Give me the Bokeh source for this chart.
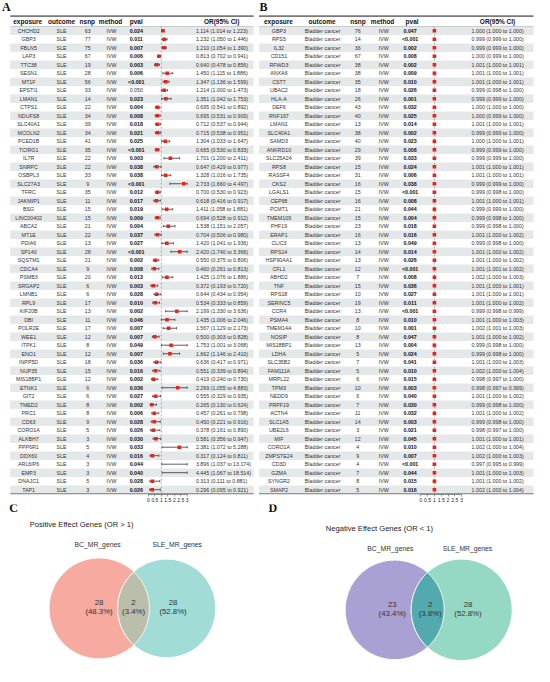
import numpy as np
from bokeh.plotting import figure
from bokeh.models import Range1d, LinearAxis, FixedTicker, CustomJSTickFormatter
from bokeh.layouts import column, row
from bokeh.embed import file_html
from bokeh.resources import INLINE
from bokeh.core.properties import value

# ---------------- Panel A data (SLE) ----------------
a_exposure = ["CHCHD2","GBP3","FBLN5","LAP3","TTC38","SESN1","MT1F","EPSTI1","LMAN1","CTPS1",
              "NDUFS8","SLC40A1","MCOLN2","PCED1B","TCIRG1","IL7R","SNRPC","OSBPL3","SLC27A3","TFRC",
              "JAKMIP1","BSG","LINC00402","ABCA2","MT1E","PDIA6","SP140","SQSTM1","CDCA4","PSMB3",
              "SRGAP2","LMNB1","RPL9","KIF20B","DBI","POLR2E","WEE1","ITPK1","ENO1","INPP5D",
              "NUP35","MIS18BP1","ETNK1","GIT2","TMED2","PRC1","CD63","CORO1A","ALKBH7","PPP6R1",
              "DDX60","ARL6IP6","EMP3","DNAJC1","TAP1"]
a_outcome = ["SLE"] * 55
a_method = ["IVW"] * 55
a_nsnp = [63,77,75,67,19,28,56,33,14,22,34,39,34,41,35,22,22,33,9,35,11,15,15,21,22,13,28,21,9,20,
          6,6,17,13,11,17,12,8,12,18,15,12,6,6,8,8,9,5,3,5,4,3,3,5,3]
a_pval = ["0.024","0.011","0.007","0.006","0.003","0.006","<0.001","0.050","0.023","0.004",
          "0.008","0.018","0.021","0.025","<0.001","0.003","0.038","0.038","<0.001","0.012",
          "0.017","0.019","0.009","0.004","0.037","0.027","<0.001","0.002","0.008","0.013",
          "0.003","0.028","0.010","0.002","0.046","0.007","0.007","0.049","0.007","0.036",
          "0.016","0.002","0.036","0.027","0.002","0.006","0.028","0.026","0.030","0.033",
          "0.016","0.044","0.040","0.028","0.026"]
a_or = [1.114,1.232,1.210,0.813,0.640,1.450,1.347,1.214,1.351,0.695,0.695,0.712,0.715,1.304,0.665,
        1.701,0.647,1.328,2.733,0.700,0.618,1.411,0.694,1.538,0.704,1.420,2.420,0.550,0.460,1.425,
        0.372,0.644,0.534,2.199,1.435,1.567,0.500,1.753,1.662,0.636,0.551,0.419,2.269,0.555,0.265,
        0.457,0.450,0.378,0.581,2.381,0.317,3.896,4.445,0.313,0.296]
a_lo = [1.014,1.050,1.054,0.702,0.478,1.115,1.136,1.000,1.042,0.541,0.531,0.537,0.538,1.033,0.530,
        1.200,0.429,1.016,1.660,0.530,0.416,1.058,0.528,1.151,0.506,1.041,1.740,0.375,0.261,1.076,
        0.193,0.434,0.333,1.330,1.006,1.129,0.303,1.001,1.146,0.417,0.339,0.240,1.055,0.329,0.130,
        0.261,0.221,0.161,0.356,1.072,0.124,1.037,1.067,0.111,0.095]
a_hi = [1.223,1.446,1.390,0.941,0.856,1.886,1.599,1.473,1.753,0.892,0.909,0.944,0.951,1.647,0.833,
        2.411,0.977,1.735,4.497,0.923,0.917,1.881,0.912,2.057,0.980,1.936,3.366,0.806,0.813,1.886,
        0.720,0.954,0.859,3.636,2.046,2.173,0.828,3.068,2.410,0.971,0.894,0.730,4.883,0.935,0.624,
        0.798,0.916,0.890,0.947,5.288,0.811,13.174,18.514,0.881,0.921]

# ---------------- Panel B data (Bladder cancer) ----------------
b_exposure = ["GBP3","RPS5","IL32","CD151","RFWD3","ANXA6","CST7","UBAC2","HLA-A","DEF6",
              "RNF167","LMAN1","SLC40A1","SAMD3","ANKRD10","SLC25A24","RPS8","RASSF4","CKS2","LGALS1",
              "CEP68","PCMT1","TMEM109","PHF19","ERAP1","CLIC3","RPS14","HSP90AA1","CFL1","ABHD2",
              "TNF","RPS18","SERINC5","CCR4","PSMA4","TMEM14A","NOSIP","MIS18BP1","LDHA","SLC35B2",
              "FAM111A","MRPL22","TPM3","NEDD9","PRPF19","ACTN4","SLC1A5","UBE2L6","MIF","CORO1A",
              "ZMPSTE24","CD3D","GZMA","SYNGR2","SMAP2"]
b_outcome = ["Bladder cancer"] * 55
b_method = ["IVW"] * 55
b_nsnp = [76,14,36,67,38,38,35,18,26,43,40,13,38,40,29,39,15,31,16,15,16,21,15,23,16,13,14,13,12,7,
          15,10,19,13,8,10,8,13,5,7,5,6,10,6,7,11,14,3,12,4,9,4,7,8,5]
b_pval = ["0.047","<0.001","0.002","0.008","0.002","0.009","0.010","0.026","0.001","0.032",
          "0.025","0.014","0.002","0.023","0.008","0.033","0.024","0.006","0.038","<0.001",
          "0.008","0.044","0.004","0.018","0.016","0.049","0.014","0.026","<0.001","0.008",
          "0.036","0.027","0.011","<0.001","0.010","0.001","0.047","0.004","0.024","0.041",
          "0.010","0.015","0.003","0.040","0.030","0.032","0.003","0.021","0.045","0.010",
          "0.007","<0.001","0.044","0.015","0.016"]
b_or = [1.000,0.999,0.999,1.000,1.001,1.001,1.001,0.999,0.999,1.000,1.000,1.001,0.999,1.000,0.999,
        0.999,1.001,1.001,0.999,0.999,1.001,0.999,0.999,0.999,1.001,0.999,1.001,1.001,1.001,1.002,
        1.001,1.001,1.001,0.999,1.001,1.002,1.001,0.999,0.999,1.001,1.002,0.998,0.998,1.001,0.999,
        1.001,0.999,0.998,1.001,1.002,1.002,0.997,1.001,1.001,1.002]
b_lo = [1.000,0.999,0.999,0.999,1.000,1.000,1.000,0.998,0.999,1.000,0.999,1.000,0.999,1.000,0.999,
        0.999,1.000,1.000,0.999,0.998,1.000,0.999,0.998,0.998,1.000,0.998,1.000,1.000,1.001,1.000,
        1.000,1.000,1.000,0.998,1.000,1.001,1.000,0.998,0.998,1.000,1.000,0.997,0.997,1.000,0.998,
        1.000,0.998,0.997,1.000,1.000,1.000,0.995,1.000,1.000,1.000]
b_hi = [1.000,1.000,1.000,1.000,1.001,1.001,1.001,1.000,1.000,1.000,1.000,1.001,1.000,1.001,1.000,
        1.000,1.001,1.001,1.000,1.000,1.001,1.000,1.000,1.000,1.002,1.000,1.002,1.002,1.002,1.003,
        1.001,1.001,1.002,0.999,1.003,1.003,1.002,1.000,1.000,1.003,1.004,1.000,0.999,1.002,1.000,
        1.002,1.000,1.000,1.001,1.004,1.003,0.999,1.003,1.002,1.004]

table_headers = ["exposure", "outcome", "nsnp", "method", "pval", "OR(95% CI)"]
or_ticks = [0, 0.5, 1, 1.5, 2, 2.5, 3]

# ---------------- Venn data ----------------
venn_sets = ["BC_MR_genes", "SLE_MR_genes"]
c_title = "Positive Effect Genes (OR > 1)"
c_counts = [28, 2, 28]
c_pcts = ["48.3%", "3.4%", "52.8%"]
d_title = "Negative Effect Genes (OR < 1)"
d_counts = [23, 2, 28]
d_pcts = ["43.4%", "3.8%", "52.8%"]

# ---------------- styling / layout ----------------
FONT = value("Liberation Sans")
SERIF = value("Liberation Serif")
SX = 534 / 550
SY = 666 / 682
ROW0, PITCH = 31.0, 8.705
RED = "#E8231B"
SHADE = "#E4E8E9"


def is_sig(p):
    return p.startswith("<") or float(p) < 0.05


def make_table(letter, letter_x, xr, exposure, outcome, nsnp, method, pval, orv, lo, hi,
               cols, hdr_x, tbl_x, or_px):
    x0, x1 = xr
    ytop, ybot = 0.0, 506.0
    fw = round((x1 - x0) * SX)
    fh = round((ybot - ytop) * SY)
    yr = Range1d(start=(ybot - ROW0) / PITCH, end=(ytop - ROW0) / PITCH)
    o0, o3 = or_px
    k = (o3 - o0) / 3.0
    p = figure(frame_width=fw, frame_height=fh, x_range=Range1d(x0, x1), y_range=yr,
               x_axis_type=None, y_axis_type=None, toolbar_location=None,
               output_backend="svg", min_border=0, outline_line_color=None)
    p.extra_x_ranges = {"or": Range1d(start=(x0 - o0) / k, end=(x1 - o0) / k)}
    n = len(exposure)
    idx = np.arange(n)
    even = idx[idx % 2 == 0]
    p.quad(left=tbl_x[0], right=tbl_x[1], top=even - 0.5, bottom=even + 0.5,
           fill_color=SHADE, line_color=None)
    p.segment(x0=[tbl_x[0]], x1=[tbl_x[1]], y0=[(16 - ROW0) / PITCH], y1=[(16 - ROW0) / PITCH],
              line_color="#7a7a7a", line_width=1.6)
    p.segment(x0=[tbl_x[0]], x1=[tbl_x[1]], y0=[-0.5], y1=[-0.5], line_color="#b0b0b0", line_width=0.6)
    p.segment(x0=[tbl_x[0]], x1=[tbl_x[1]], y0=[n - 0.5], y1=[n - 0.5], line_color="#7a7a7a", line_width=1.2)
    hy = (21.6 - ROW0) / PITCH
    p.text(x=hdr_x, y=[hy] * len(table_headers), text=table_headers, text_align="center",
           text_baseline="middle", text_font=FONT, text_font_style="bold",
           text_font_size=value("6.5px"), text_color="#111111")
    common = dict(text_baseline="middle", text_font=FONT, text_font_size=value("5.3px"),
                  text_color="#333333")
    p.text(x=cols[0], y=idx, text=exposure, text_align="center", **common)
    p.text(x=cols[1], y=idx, text=outcome, text_align="center", **common)
    p.text(x=cols[2], y=idx, text=[str(v) for v in nsnp], text_align="center", **common)
    p.text(x=cols[3], y=idx, text=method, text_align="center", **common)
    sig = [int(i) for i in idx if is_sig(pval[i])]
    nsig = [int(i) for i in idx if not is_sig(pval[i])]
    p.text(x=cols[4], y=sig, text=[pval[i] for i in sig], text_align="center",
           text_font_style="bold", **dict(common, text_color="#111111"))
    if nsig:
        p.text(x=cols[4], y=nsig, text=[pval[i] for i in nsig], text_align="center", **common)
    ortxt = [f"{o:.3f} ({l:.3f} to {h:.3f})" for o, l, h in zip(orv, lo, hi)]
    p.text(x=cols[5], y=idx, text=ortxt, text_align="left", **common)
    # forest
    p.segment(x0=[1], x1=[1], y0=[-0.5], y1=[yr.start], x_range_name="or",
              line_color="#8c8c8c", line_width=0.7, line_dash="2 2")
    lo_c = np.clip(lo, 0, 3)
    hi_c = np.clip(hi, 0, 3)
    p.segment(x0=lo_c, x1=hi_c, y0=idx, y1=idx, x_range_name="or", line_color="#333333", line_width=0.8)
    p.scatter(x=np.concatenate([lo_c, hi_c]), y=np.concatenate([idx, idx]), marker="dash",
              angle=np.pi / 2, size=2.4, x_range_name="or", line_color="#333333", line_width=0.7)
    inr = [int(i) for i in idx if orv[i] <= 3]
    p.scatter(x=[orv[i] for i in inr], y=inr, marker="square", size=3.6, x_range_name="or",
              fill_color=RED, line_color=None)
    p.text(x=[letter_x], y=[(7 - ROW0) / PITCH], text=[letter], text_align="left",
           text_baseline="middle", text_font=SERIF, text_font_style="bold",
           text_font_size=value("12px"), text_color="#111111")
    ax = LinearAxis(x_range_name="or", ticker=FixedTicker(ticks=or_ticks), bounds=(0, 3),
                    formatter=CustomJSTickFormatter(code="return tick.toString()"))
    ax.axis_line_color = "#555555"
    ax.axis_line_width = 0.6
    ax.major_tick_line_color = "#555555"
    ax.major_tick_line_width = 0.6
    ax.major_tick_out = 2
    ax.major_tick_in = 0
    ax.minor_tick_out = 0
    ax.minor_tick_in = 0
    ax.major_label_standoff = 1
    ax.major_label_text_font = "Liberation Sans"
    ax.major_label_text_font_size = "5px"
    ax.major_label_text_color = "#222222"
    p.add_layout(ax, "below")
    return p


def circle_xy(cx, cy, r, n=240):
    t = np.linspace(0, 2 * np.pi, n)
    return cx + r * np.cos(t), cy + r * np.sin(t)


def lens_xy(c1, r1, c2, r2, n=120):
    (x1, y1), (x2, y2) = c1, c2
    d = np.hypot(x2 - x1, y2 - y1)
    a = (d * d + r1 * r1 - r2 * r2) / (2 * d)
    h = np.sqrt(r1 * r1 - a * a)
    base = np.arctan2(y2 - y1, x2 - x1)
    t1 = np.arctan2(h, a)
    t2 = np.arctan2(h, d - a)
    s1 = np.linspace(-t1, t1, n) + base
    s2 = np.linspace(np.pi - t2, np.pi + t2, n) + base
    xs = np.concatenate([x1 + r1 * np.cos(s1), x2 + r2 * np.cos(s2)])
    ys = np.concatenate([y1 + r1 * np.sin(s1), y2 + r2 * np.sin(s2)])
    return xs, ys


def make_venn(letter, letter_xy, xr, title, title_xy, set_xy, circ, colors, counts, pcts, lab_xy):
    x0, x1 = xr
    y0, y1 = 518.0, 682.0
    p = figure(frame_width=round((x1 - x0) * SX), frame_height=round((y1 - y0) * SY),
               x_range=Range1d(x0, x1), y_range=Range1d(y1, y0), x_axis_type=None, y_axis_type=None,
               toolbar_location=None, output_backend="svg", min_border=0, outline_line_color=None)
    (c1, r1), (c2, r2) = circ
    xa, ya = circle_xy(c1[0], c1[1], r1)
    xb, yb = circle_xy(c2[0], c2[1], r2)
    p.patch(xa, ya, fill_color=colors[0], line_color="white", line_width=1)
    p.patch(xb, yb, fill_color=colors[1], line_color="white", line_width=1)
    xl, yl = lens_xy(c1, r1, c2, r2)
    p.patch(xl, yl, fill_color=colors[2], line_color="white", line_width=1)
    p.text(x=[title_xy[0]], y=[title_xy[1]], text=[title], text_align="left", text_baseline="middle",
           text_font=FONT, text_font_size=value("7.6px"), text_color="#222222")
    p.text(x=[s[0] for s in set_xy], y=[s[1] for s in set_xy], text=venn_sets, text_align="center",
           text_baseline="middle", text_font=FONT, text_font_size=value("6.8px"), text_color="#333333")
    p.text(x=[q[0] for q in lab_xy], y=[q[1] for q in lab_xy], text=[str(c) for c in counts],
           text_align="center", text_baseline="middle", text_font=FONT,
           text_font_size=value("7.8px"), text_color="#333333")
    p.text(x=[q[0] for q in lab_xy], y=[q[1] + 9.3 for q in lab_xy], text=[f"({s})" for s in pcts],
           text_align="center", text_baseline="middle", text_font=FONT,
           text_font_size=value("7.8px"), text_color="#333333")
    p.text(x=[letter_xy[0]], y=[letter_xy[1]], text=[letter], text_align="left", text_baseline="middle",
           text_font=SERIF, text_font_style="bold", text_font_size=value("12px"), text_color="#111111")
    return p


fa = make_table("A", 1.5, (0, 266), a_exposure, a_outcome, a_nsnp, a_method, a_pval, a_or, a_lo, a_hi,
                cols=[29, 63, 90, 114.5, 140, 201.5], hdr_x=[28, 63, 89.5, 113.5, 140, 228],
                tbl_x=(10, 261), or_px=(152.5, 192.5))
fb = make_table("B", 267, (266, 550), b_exposure, b_outcome, b_nsnp, b_method, b_pval, b_or, b_lo, b_hi,
                cols=[287, 332, 368, 395, 422, 485.3], hdr_x=[286.5, 331.5, 368.4, 393.7, 424, 512],
                tbl_x=(266.5, 549), or_px=(433, 475))

fc = make_venn("C", (9, 521.5), (0, 275), c_title, (30, 538.5), [(100, 558.5), (182, 558.5)],
               [((101.7, 624.5), 51.7), ((171.2, 624.5), 50.5)],
               ["#F7AA9F", "#A2DCD6", "#BBBEAB"], c_counts, c_pcts,
               [(101.5, 618.2), (137, 618.2), (177.7, 618.2)])
fd = make_venn("D", (276, 521.5), (275, 550), d_title, (335, 543), [(401.5, 563.5), (481, 563.5)],
               [((406, 626), 51), ((475, 626), 52)],
               ["#A9A1D3", "#95D9C5", "#52AAAE"], d_counts, d_pcts,
               [(403.5, 620.5), (442.5, 620.5), (481.5, 620.5)])

layout = column(row(fa, fb), row(fc, fd))
open("out.html", "w").write(file_html(layout, INLINE, title="MR forest plots and Venn diagrams"))
